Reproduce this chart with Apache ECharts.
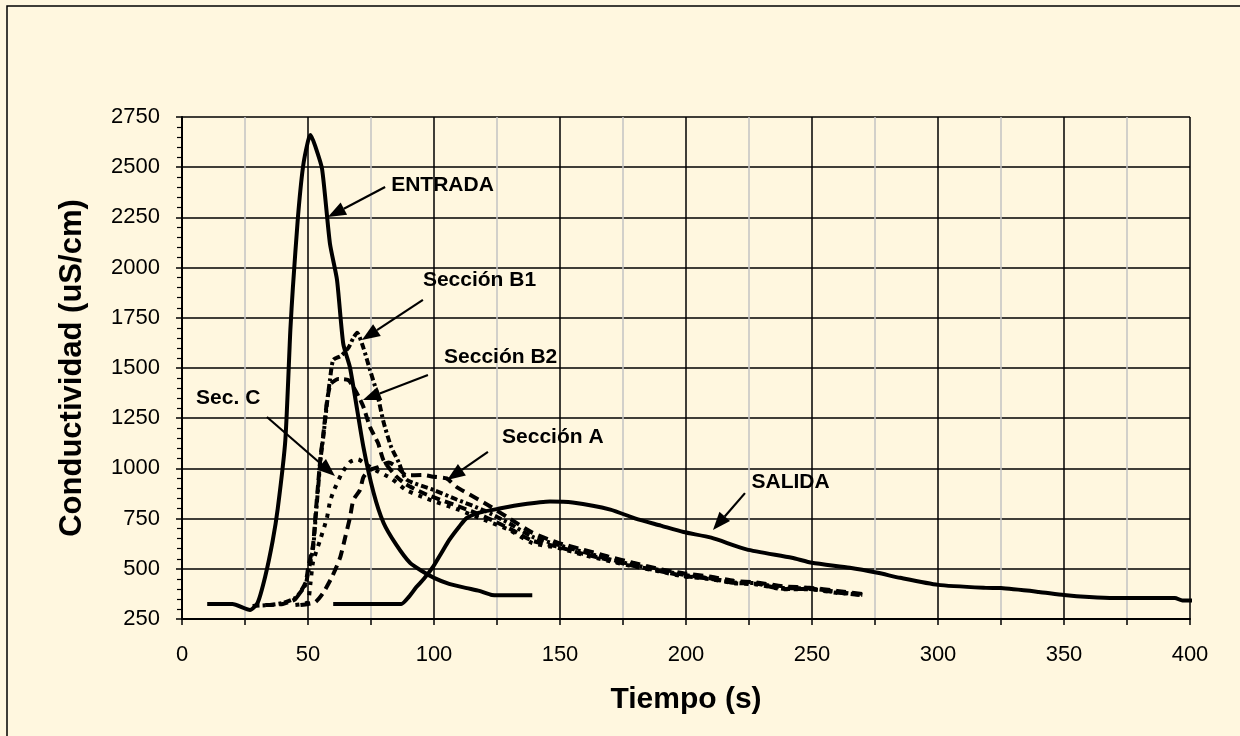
<!DOCTYPE html>
<html>
<head>
<meta charset="utf-8">
<script src="https://cdn.jsdelivr.net/npm/echarts@6/dist/echarts.min.js"></script>
<style>
  html, body { margin: 0; padding: 0; background: #fff7df; }
  #chart { width: 1240px; height: 736px; }
</style>
</head>
<body>
<div id="chart"></div>
<script>
// conductividad vs tiempo, trazadores por seccion

var xTicks = [0, 50, 100, 150, 200, 250, 300, 350, 400]
var yTicks = [250, 500, 750, 1000, 1250, 1500, 1750, 2000, 2250, 2500, 2750]

var entrada = [[10,325],[20,325],[27,295],[30,330],[33,460],[36,640],[38,800],[41,1140],[43,1690],[44,1900],[46,2250],[48,2500],[50,2630],[51,2660],[53,2600],[55.6,2490],[58.7,2120],[61.5,1940],[64,1620],[66.7,1500],[72,1106],[76,880],[80,728],[85,620],[90.5,529],[95,490],[100,455],[106,425],[113,404],[118,390],[123,370],[130,368],[139,368]]

var salida = [[60,325],[87,325],[90,360],[93,409],[96,450],[99.6,509],[103,580],[106,643],[110,710],[113,753],[118,780],[126,800],[135,820],[146,835],[155,830],[170,795],[180,750],[190,715],[199,683],[210,655],[224,597],[242,555],[250,530],[265,505],[276,480],[285,455],[300,420],[319,405],[325,404],[340,385],[350,370],[360,360],[370,355],[394,355],[397,342],[405,342]]

var seccionB1 = [[28,315],[35,320],[40,330],[45,355],[49,420],[50,480],[52,600],[53,750],[54,900],[55,1050],[56,1150],[57.5,1320],[58.7,1440],[60,1540],[63,1560],[66,1600],[68,1650],[69.5,1675],[72,1600],[74.6,1490],[77.4,1375],[80,1230],[83,1107],[86,1030],[89,945],[100,892],[109,845],[120,790],[130,725],[139,660],[149,620],[159,585],[169,550],[179,520],[189,495],[199,470],[210,452],[219,432],[228,428],[239,404],[249,402],[260,385],[270,370]]

var seccionB2 = [[33,320],[40,325],[45,350],[49,430],[50,500],[52,620],[53,770],[54,920],[55,1060],[56,1160],[57.5,1330],[59,1420],[62,1445],[66,1440],[67.5,1415],[70,1360],[72,1306],[74.6,1206],[77.8,1126],[80,1040],[85,960],[89,920],[97,870],[110,810],[120,760],[130,700],[139,640],[149,610],[159,575],[169,545],[179,515],[189,490],[199,465],[210,450],[219,430],[228,425],[239,400],[249,400],[260,382],[270,368]]

var seccionA = [[47,320],[50,325],[53,335],[56,380],[59.5,459],[62.7,554],[64.7,653],[66.7,758],[68,843],[70.6,892],[72,957],[74.6,992],[78,1007],[82,1030],[86,1000],[89,965],[95.6,967],[100,958],[105,950],[109,907],[120,828],[129,758],[139,680],[149,630],[159,596],[169,562],[179,530],[189,500],[199,478],[210,460],[219,440],[228,432],[239,412],[249,406],[260,390],[270,375]]

var secC = [[45,320],[48,325],[50,335],[51,430],[52,534],[54.8,643],[57.5,753],[58.7,833],[60,882],[63.5,977],[66.7,1032],[69.8,1045],[73,1020],[77,990],[83,950],[89,892],[97,850],[110,793],[120,743],[130,693],[139,628],[149,605],[159,570],[169,540],[179,512],[189,488],[199,462],[210,448],[219,428],[228,422],[239,398],[249,398],[260,380],[268,375]]

// etiquetas: texto, posicion del texto, inicio y punta de la flecha (en unidades de datos)
var notas = [
  {t: 'ENTRADA', pos: [83, 2411], from: [80.6, 2401], to: [57.9, 2252]},
  {t: 'Sección B1', pos: [95.6, 1938], from: [95.6, 1839], to: [71.4, 1639]},
  {t: 'Sección B2', pos: [104, 1555], from: [97.6, 1465], to: [71.8, 1341]},
  {t: 'Sec. C', pos: [5.6, 1351], from: [33.7, 1256], to: [60.7, 962]},
  {t: 'Sección A', pos: [127, 1156], from: [121.4, 1082], to: [105.2, 942]},
  {t: 'SALIDA', pos: [226, 932], from: [223.4, 877], to: [210.7, 693]}
]

var chart = echarts.init(document.getElementById('chart'))

function linea(name, data, dash, clip, w) {
  return {
    name: name, type: 'line', data: data, showSymbol: false, symbol: 'none',
    smooth: 0.2, clip: clip !== false, animation: false,
    lineStyle: {color: '#000', width: w || 3.5, type: dash}
  }
}

var option = {
  backgroundColor: '#fff7df',
  animation: false,
  grid: {left: 182, top: 117, right: 50, bottom: 117},
  xAxis: {
    type: 'value', min: 0, max: 400, interval: 50,
    name: 'Tiempo (s)', nameLocation: 'middle', nameGap: 66,
    nameTextStyle: {fontFamily: 'Liberation Sans', fontWeight: 'bold', fontSize: 30, color: '#000'},
    axisLine: {lineStyle: {color: '#000', width: 2}},
    axisTick: {show: true, length: 6, lineStyle: {color: '#000', width: 1.5}},
    minorTick: {show: true, splitNumber: 2, length: 6, lineStyle: {color: '#000', width: 1.5}},
    axisLabel: {fontFamily: 'Liberation Sans', fontSize: 22, color: '#000', margin: 25,
      formatter: function (v) { return String(v) }},
    splitLine: {show: true, lineStyle: {color: '#000', width: 1.5}},
    minorSplitLine: {show: true, lineStyle: {color: '#c4c4c4', width: 1.5}}
  },
  yAxis: {
    type: 'value', min: 250, max: 2750, interval: 250,
    name: 'Conductividad (uS/cm)', nameLocation: 'middle', nameGap: 94,
    nameTextStyle: {fontFamily: 'Liberation Sans', fontWeight: 'bold', fontSize: 31, color: '#000'},
    axisLine: {show: true, lineStyle: {color: '#000', width: 2}},
    axisTick: {show: true, length: 6, lineStyle: {color: '#000', width: 1.5}},
    minorTick: {show: true, splitNumber: 5, length: 5, lineStyle: {color: '#000', width: 1.2}},
    axisLabel: {fontFamily: 'Liberation Sans', fontSize: 22, color: '#000', margin: 22,
      formatter: function (v) { return String(v) }},
    splitLine: {show: true, lineStyle: {color: '#000', width: 1.5}}
  },
  series: [
    linea('ENTRADA', entrada, 'solid', true, 4),
    linea('SALIDA', salida, 'solid', false, 4),
    linea('Sección B1', seccionB1, [7, 3, 3, 3], true, 4),
    linea('Sección B2', seccionB2, [9, 5], true, 4),
    linea('Sección A', seccionA, [10, 6], true, 4),
    linea('Sec. C', secC, [4, 6], true, 4)
  ]
}

chart.setOption(option)

// flechas y textos encima del grafico
var g = [
  {type: 'polyline', shape: {points: [[7, 760], [7, 6], [1300, 6]]}, style: {stroke: '#000', lineWidth: 1.5, fill: null}, silent: true}
]
notas.forEach(function (n) {
  var p = chart.convertToPixel({gridIndex: 0}, n.pos)
  var a = chart.convertToPixel({gridIndex: 0}, n.from)
  var b = chart.convertToPixel({gridIndex: 0}, n.to)
  var dx = b[0] - a[0], dy = b[1] - a[1]
  var len = Math.sqrt(dx * dx + dy * dy)
  var ux = dx / len, uy = dy / len
  var hl = 18, hw = 7
  var bx = b[0] - ux * hl, by = b[1] - uy * hl
  g.push({type: 'line', shape: {x1: a[0], y1: a[1], x2: bx, y2: by}, style: {stroke: '#000', lineWidth: 2.2}})
  g.push({type: 'polygon', shape: {points: [[b[0], b[1]], [bx - uy * hw, by + ux * hw], [bx + uy * hw, by - ux * hw]]}, style: {fill: '#000'}})
  g.push({type: 'text', x: p[0], y: p[1], style: {text: n.t, fill: '#000', font: 'bold 21px "Liberation Sans"', textVerticalAlign: 'middle', verticalAlign: 'middle'}})
})
chart.setOption({graphic: g})
</script>
</body>
</html>
